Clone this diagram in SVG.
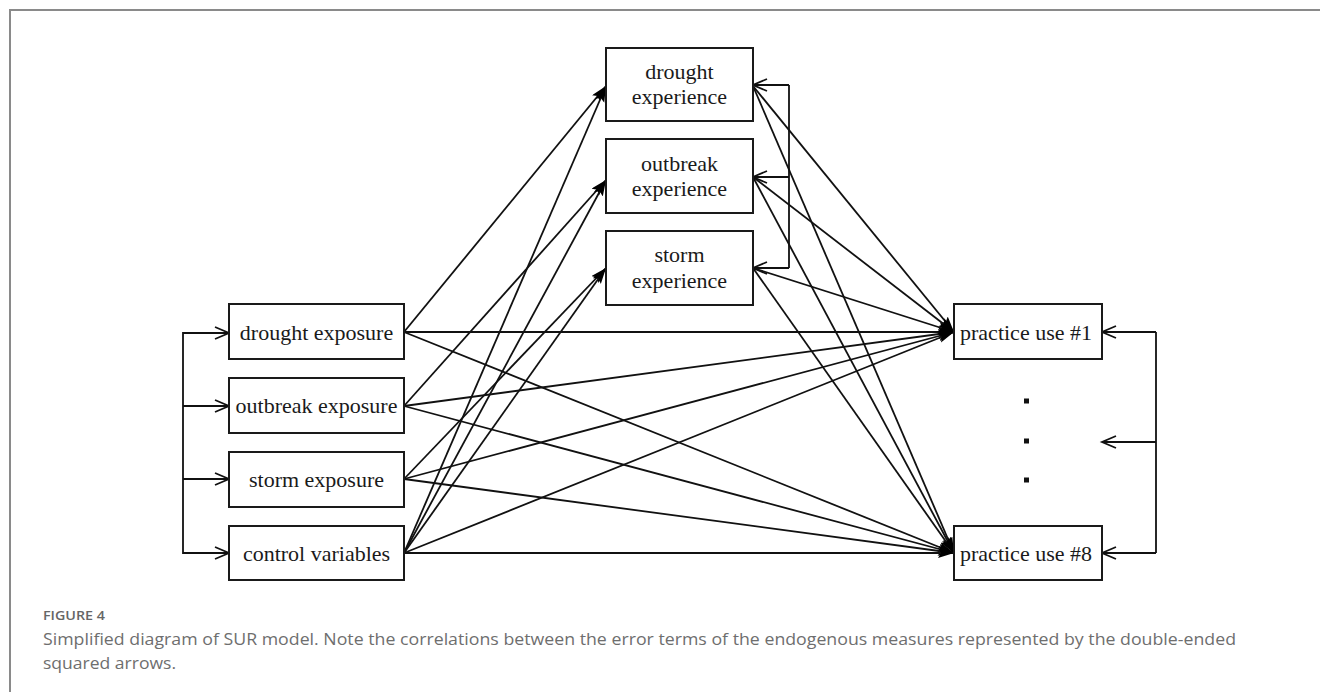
<svg xmlns="http://www.w3.org/2000/svg" width="1320" height="692" viewBox="0 0 1320 692">
<style>
.box{fill:#fff;stroke:#1a1a1a;stroke-width:2}
.lbl{font-family:"Liberation Serif","Times New Roman",serif;font-size:22px;fill:#1a1a1a;text-anchor:middle}
.c{fill:none;stroke:#111;stroke-width:1.8}
.ca{fill:none;stroke:#111;stroke-width:1.8;marker-end:url(#fill)}
.co{fill:none;stroke:#111;stroke-width:1.8;marker-end:url(#open)}
.frame{stroke:#8a8a8a;stroke-width:2;fill:none}
.fig{font-family:"Open Sans","Liberation Sans",sans-serif;font-weight:600;font-size:12px;fill:#666}
.cap{font-family:"Open Sans","Liberation Sans",sans-serif;font-size:17px;fill:#6e6e6e}
</style>
<defs>
<marker id="fill" markerUnits="userSpaceOnUse" markerWidth="18" markerHeight="12" refX="16" refY="5" orient="auto" viewBox="0 0 18 12">
<path d="M0,0 L16,5 L0,10 L3,5 z" fill="#000"/>
</marker>
<marker id="open" markerUnits="userSpaceOnUse" markerWidth="18" markerHeight="16" refX="15" refY="7" orient="auto" viewBox="0 0 18 16">
<path d="M1,1 L15,7 L1,13" fill="none" stroke="#111" stroke-width="1.8"/>
</marker>
</defs>
<rect width="1320" height="692" fill="#fff"/>
<path class="frame" d="M10,692 V10 H1320"/>

<g id="connectors">
<!-- left correlation bus -->
<path class="c" d="M229,333 H183 V553 H229"/>
<path class="co" d="M183,333 H229"/>
<path class="co" d="M183,406 H229"/>
<path class="co" d="M183,479 H229"/>
<path class="co" d="M183,553 H229"/>
<!-- top correlation bus -->
<path class="c" d="M789,85 V268"/>
<path class="co" d="M789,85 H753"/>
<path class="co" d="M789,177 H753"/>
<path class="co" d="M789,268 H753"/>
<!-- right correlation bus -->
<path class="c" d="M1156,332 V553"/>
<path class="co" d="M1156,332 H1102"/>
<path class="co" d="M1156,442 H1102"/>
<path class="co" d="M1156,553 H1102"/>
<!-- exposures to experiences -->
<path class="ca" d="M404,332 L606,86"/>
<path class="ca" d="M404,406 L606,180"/>
<path class="ca" d="M404,479 L606,268"/>
<path class="ca" d="M404,553 L606,86"/>
<path class="ca" d="M404,553 L606,180"/>
<path class="ca" d="M404,553 L606,268"/>
<!-- exposures to practices -->
<path class="ca" d="M404,332 L954,332"/>
<path class="ca" d="M404,332 L954,553"/>
<path class="ca" d="M404,406 L954,332"/>
<path class="ca" d="M404,406 L954,553"/>
<path class="ca" d="M404,479 L954,332"/>
<path class="ca" d="M404,479 L954,553"/>
<path class="ca" d="M404,553 L954,332"/>
<path class="ca" d="M404,553 L954,553"/>
<!-- experiences to practices -->
<path class="ca" d="M753,86 L954,332"/>
<path class="ca" d="M753,86 L954,553"/>
<path class="ca" d="M753,177 L954,332"/>
<path class="ca" d="M753,177 L954,553"/>
<path class="ca" d="M753,268 L954,332"/>
<path class="ca" d="M753,268 L954,553"/>
</g>

<g id="drought-exposure"><rect class="box" x="229" y="304" width="175" height="55"/><text class="lbl" x="316.5" y="340">drought exposure</text></g>
<g id="outbreak-exposure"><rect class="box" x="229" y="378" width="175" height="55"/><text class="lbl" x="316.5" y="413">outbreak exposure</text></g>
<g id="storm-exposure"><rect class="box" x="229" y="452" width="175" height="55"/><text class="lbl" x="316.5" y="487">storm exposure</text></g>
<g id="control-variables"><rect class="box" x="229" y="526" width="175" height="54"/><text class="lbl" x="316.5" y="561">control variables</text></g>

<g id="drought-experience"><rect class="box" x="606" y="48" width="147" height="73"/><text class="lbl" x="679.5" y="79">drought</text><text class="lbl" x="679.5" y="104">experience</text></g>
<g id="outbreak-experience"><rect class="box" x="606" y="139" width="147" height="74"/><text class="lbl" x="679.5" y="171">outbreak</text><text class="lbl" x="679.5" y="196">experience</text></g>
<g id="storm-experience"><rect class="box" x="606" y="231" width="147" height="74"/><text class="lbl" x="679.5" y="262">storm</text><text class="lbl" x="679.5" y="288">experience</text></g>

<g id="practice-use-1"><rect class="box" x="954" y="304" width="148" height="55"/><text class="lbl" x="1026" y="340">practice use #1</text></g>
<g id="practice-use-8"><rect class="box" x="954" y="526" width="148" height="54"/><text class="lbl" x="1026" y="561">practice use #8</text></g>

<g id="ellipsis" fill="#111">
<rect x="1024" y="398.5" width="5" height="5"/>
<rect x="1024" y="438.5" width="5" height="5"/>
<rect x="1024" y="477.5" width="5" height="5"/>
</g>

<g id="caption">
<text class="fig" x="43" y="620" textLength="62" lengthAdjust="spacingAndGlyphs">FIGURE 4</text>
<text class="cap" x="43" y="645" textLength="1193" lengthAdjust="spacingAndGlyphs">Simplified diagram of SUR model. Note the correlations between the error terms of the endogenous measures represented by the double-ended</text>
<text class="cap" x="43" y="669" textLength="133" lengthAdjust="spacingAndGlyphs">squared arrows.</text>
</g>
</svg>
